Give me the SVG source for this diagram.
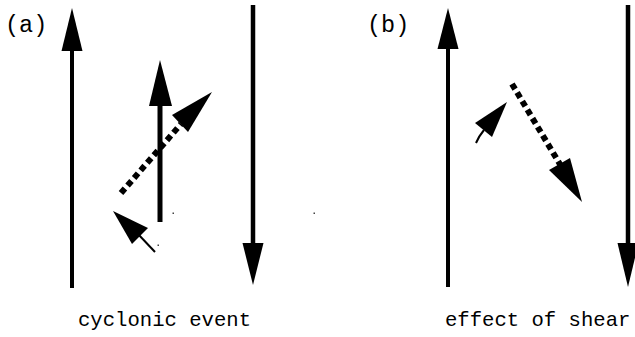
<svg xmlns="http://www.w3.org/2000/svg" width="635" height="337" viewBox="0 0 635 337">
<style>
.ln{stroke:#000;fill:none}
.hd{fill:#000;stroke:none}
.dot{stroke:#000;fill:none;stroke-width:6;stroke-dasharray:6 4}
.lbl{font-family:"Liberation Mono","DejaVu Sans Mono",monospace;fill:#000}
.spk{fill:#444}
</style>
<rect width="635" height="337" fill="#fff"/>
<g id="label-a"><text class="lbl" x="5" y="32" font-size="23.5">(a)</text></g>
<g id="label-b"><text class="lbl" x="367" y="32" font-size="23.5">(b)</text></g>
<g id="caption-a"><text class="lbl" x="78" y="326" font-size="20.6">cyclonic event</text></g>
<g id="caption-b"><text class="lbl" x="445" y="326" font-size="20.6">effect of shear</text></g>
<g id="connectors">
  <!-- panel a -->
  <line class="ln" x1="72" y1="288" x2="72" y2="45" stroke-width="4"/>
  <polygon class="hd" points="72,8 61.5,51 82.5,51"/>
  <line class="ln" x1="253" y1="5" x2="253" y2="248" stroke-width="4.5"/>
  <polygon class="hd" points="253,285 242.5,243 263.5,243"/>
  <line class="ln" x1="160" y1="222" x2="160" y2="100" stroke-width="5"/>
  <polygon class="hd" points="160,60 149,106 172,106"/>
  <line class="dot" x1="121" y1="193" x2="181" y2="124"/>
  <polygon class="hd" points="212,92 172,115 188,132"/>
  <line class="ln" x1="155" y1="252" x2="138" y2="234" stroke-width="2"/>
  <polygon class="hd" points="113,211 132,244 148,228"/>
  <!-- panel b -->
  <line class="ln" x1="448" y1="287" x2="448" y2="44" stroke-width="4"/>
  <polygon class="hd" points="448,8 437.5,49 458.5,49"/>
  <line class="ln" x1="628" y1="5" x2="628" y2="248" stroke-width="4.5"/>
  <polygon class="hd" points="628,287 617.5,243 638.5,243"/>
  <line class="dot" x1="512" y1="84" x2="561" y2="166"/>
  <polygon class="hd" points="582,202 549,170 570,158"/>
  <path class="ln" d="M476,143 Q479,136 484,130" stroke-width="2"/>
  <polygon class="hd" points="507,102 475,123 492,137"/>
</g>
<g id="specks">
  <rect class="spk" x="172.5" y="212.5" width="1.5" height="1.5"/>
  <rect class="spk" x="157.5" y="244.5" width="1.5" height="1.5"/>
  <rect class="spk" x="313.5" y="212.5" width="1.5" height="1.5"/>
</g>
</svg>
